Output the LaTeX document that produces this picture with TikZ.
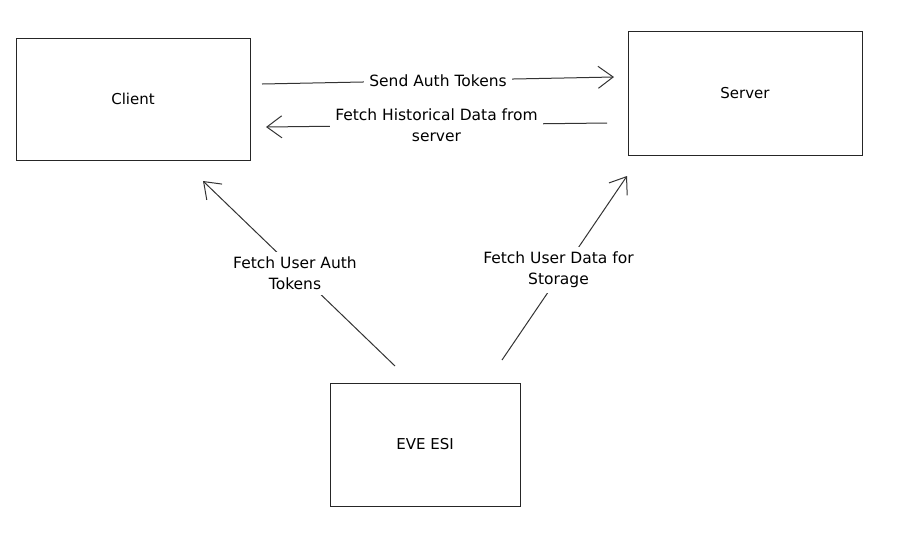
\documentclass[tikz,border=0pt]{standalone}
\usepackage{fontspec}
\setmainfont{DejaVu Sans}
\usetikzlibrary{arrows.meta}

\begin{document}
\begin{tikzpicture}[x=1pt,y=-1pt]
\tikzstyle{box}=[draw=black!85,line width=1pt,inner sep=0pt,font=\fontsize{15}{18}\selectfont]
\tikzstyle{lbl}=[fill=white,inner sep=5pt,align=center,font=\fontsize{15.5}{21}\selectfont]
\tikzstyle{link}=[draw=black!80,line width=1pt,-{Straight Barb[length=15pt,width=22pt,line width=1pt]}]
\useasboundingbox (0,0) rectangle (902,542);
\node [box,minimum width=234pt,minimum height=122pt] (client) at (133,99) {Client};
\node [box,minimum width=234pt,minimum height=124pt] (server) at (745,93) {Server};
\node [box,minimum width=190pt,minimum height=123pt] (esi) at (425,444.5) {EVE ESI};
\coordinate (sendA) at (262,84);
\coordinate (sendB) at (614,77);
\coordinate (histA) at (607,123);
\coordinate (histB) at (266,127);
\coordinate (authA) at (395,366);
\coordinate (authB) at (203,181);
\coordinate (dataA) at (502,360);
\coordinate (dataB) at (627,176);
\draw [link] (sendA) -- node [lbl] {Send Auth Tokens} (sendB);
\draw [link] (histA) -- node [lbl] {Fetch Historical Data from\\server} (histB);
\draw [link] (authA) -- node [lbl,xshift=-4pt] {Fetch User Auth\\Tokens} (authB);
\draw [link] (dataA) -- node [lbl,xshift=-6pt,yshift=-2pt] {Fetch User Data for\\Storage} (dataB);
\end{tikzpicture}
\end{document}
